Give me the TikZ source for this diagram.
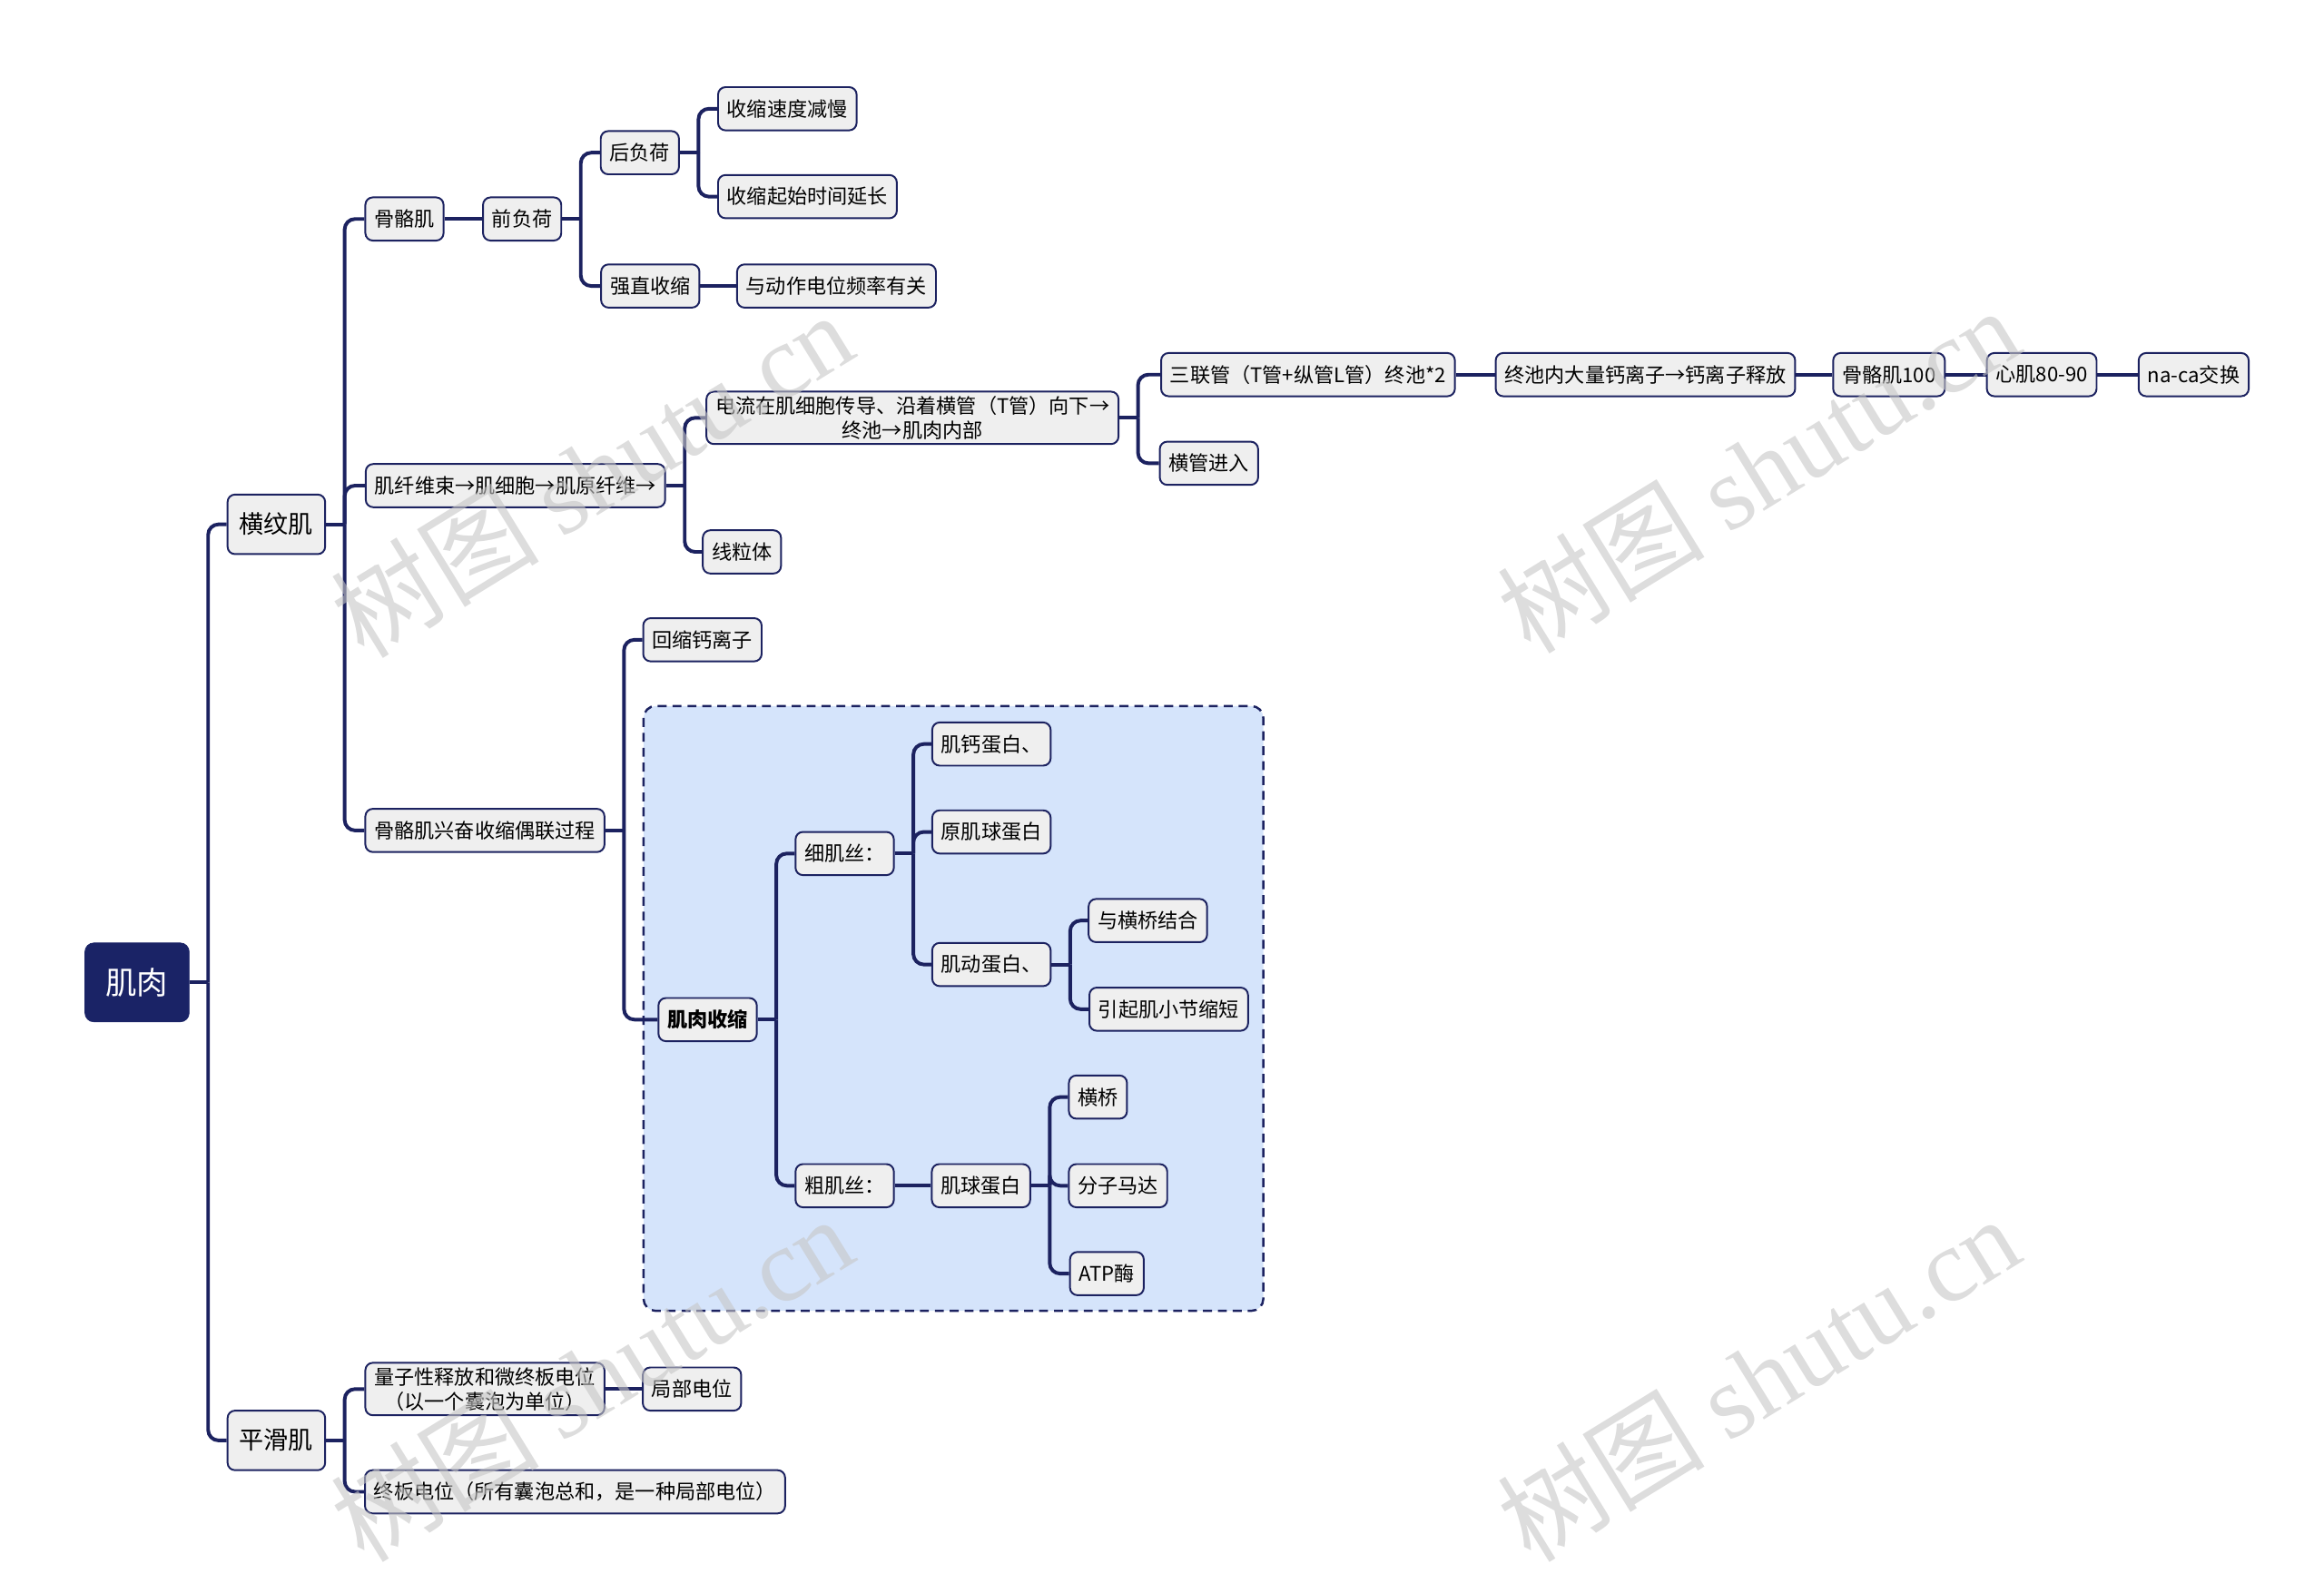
\documentclass[tikz,border=0pt]{standalone}
\usepackage{fontspec}
\setmainfont{Noto Sans CJK SC}
\newfontfamily\wmlatin{Liberation Serif}
\usetikzlibrary{arrows}

\definecolor{navy}{HTML}{1C2260}
\definecolor{rootfill}{HTML}{1A2366}
\definecolor{nodefill}{HTML}{EFEFEF}
\definecolor{boxfill}{HTML}{D5E4FB}

\tikzset{
  topic/.style={draw=navy, line width=1.2pt, fill=nodefill, rounded corners=5pt,
    inner xsep=6pt, inner ysep=3pt, minimum height=29pt, font=\fontsize{13.5}{16.5}\selectfont, align=center},
  maintopic/.style={topic, minimum height=40pt, inner xsep=8pt, font=\fontsize{16.5}{20}\selectfont},
  roottopic/.style={draw=rootfill, fill=rootfill, text=white, rounded corners=6pt,
    minimum width=70pt, minimum height=53pt, font=\fontsize{21}{25}\selectfont},
  link/.style={draw=navy, line width=2.4pt},
  wm/.style={text=gray!45, text opacity=0.6, font=\fontsize{70}{80}\selectfont, rotate=31.6}
}

% parent to several children through a vertical trunk
\newcommand{\fork}[2]{%
  \draw[link] (#1.east) -- ++(12.5,0) coordinate (#1T);
  \foreach \c in {#2} \draw[link, rounded corners=7pt] (#1T) |- (\c.west);
}
% parent to one child on the same line
\newcommand{\join}[2]{\draw[link] (#1.east) -- (#2.west);}

\begin{document}
\begin{tikzpicture}[x=1pt, y=-1pt]
  \useasboundingbox (0,0) rectangle (1560,1069);

  \draw[navy, line width=1.5pt, dash pattern=on 6pt off 4pt, fill=boxfill, rounded corners=8pt] (432,474) rectangle (848,880);

  \node[roottopic] (root) at (92,659.5) {肌肉};

  \node[maintopic] (hwj) at (185.5,352) {横纹肌};
  \node[maintopic] (phj) at (185.5,967) {平滑肌};

  \node[topic] (ggj) at (271.5,147) {骨骼肌};
  \node[topic] (qfh) at (350.5,147) {前负荷};
  \node[topic] (hfh) at (429.5,102.5) {后负荷};
  \node[topic] (qzss) at (436.5,192) {强直收缩};
  \node[topic] (sdjm) at (528.5,73) {收缩速度减慢};
  \node[topic] (qsyc) at (542,132) {收缩起始时间延长};
  \node[topic] (pl) at (561.5,192) {与动作电位频率有关};

  \node[topic] (jxws) at (346,326) {肌纤维束→肌细胞→肌原纤维→};
  \node[topic] (dl) at (612.5,280.5) {电流在肌细胞传导、沿着横管（T管）向下→\\终池→肌肉内部};
  \node[topic] (xlt) at (498,370.5) {线粒体};
  \node[topic] (slg) at (878,251.5) {三联管（T管+纵管L管）终池*2};
  \node[topic] (hgjr) at (811.5,311) {横管进入};
  \node[topic] (zc) at (1104.5,251.5) {终池内大量钙离子→钙离子释放};
  \node[topic] (gg100) at (1268,251.5) {骨骼肌100};
  \node[topic] (xj) at (1370.5,251.5) {心肌80-90};
  \node[topic] (naca) at (1472.5,251.5) {na-ca交换};

  \node[topic] (ol) at (325.5,557.5) {骨骼肌兴奋收缩偶联过程};
  \node[topic] (hs) at (471.5,429.5) {回缩钙离子};
  \node[topic, font=\fontsize{13.5}{16.5}\selectfont\bfseries] (jrss) at (475,684.5) {肌肉收缩};
  \node[topic] (xjs) at (567,573) {细肌丝：};
  \node[topic] (cjs) at (567,796) {粗肌丝：};
  \node[topic] (jgdb) at (665.5,499.5) {肌钙蛋白、};
  \node[topic] (yjq) at (665.5,558.5) {原肌球蛋白};
  \node[topic] (jddb) at (665.5,647.5) {肌动蛋白、};
  \node[topic] (jh) at (770.5,618) {与横桥结合};
  \node[topic] (sd) at (784.5,677.5) {引起肌小节缩短};
  \node[topic] (jqdb) at (658.5,796) {肌球蛋白};
  \node[topic] (hq) at (737,736.5) {横桥};
  \node[topic] (md) at (750.5,796) {分子马达};
  \node[topic] (atp) at (743,855) {ATP酶};

  \node[topic] (lz) at (325.5,932.5) {量子性释放和微终板电位\\（以一个囊泡为单位）};
  \node[topic] (jbdw) at (464.5,932.5) {局部电位};
  \node[topic] (zbdw) at (386,1001.5) {终板电位（所有囊泡总和，是一种局部电位）};

  \fork{root}{hwj,phj}
  \fork{hwj}{ggj,jxws,ol}
  \join{ggj}{qfh}
  \fork{qfh}{hfh,qzss}
  \fork{hfh}{sdjm,qsyc}
  \join{qzss}{pl}
  \fork{jxws}{dl,xlt}
  \fork{dl}{slg,hgjr}
  \join{slg}{zc}
  \join{zc}{gg100}
  \join{gg100}{xj}
  \join{xj}{naca}
  \fork{ol}{hs,jrss}
  \fork{jrss}{xjs,cjs}
  \fork{xjs}{jgdb,yjq,jddb}
  \fork{jddb}{jh,sd}
  \join{cjs}{jqdb}
  \fork{jqdb}{hq,md,atp}
  \fork{phj}{lz,zbdw}
  \join{lz}{jbdw}

  \node[wm] (wm1) at (397,318) {树图 {\wmlatin shutu.cn}};
  \node[wm] (wm2) at (1180,315) {树图 {\wmlatin shutu.cn}};
  \node[wm] (wm3) at (397,925) {树图 {\wmlatin shutu.cn}};
  \node[wm] (wm4) at (1180,925) {树图 {\wmlatin shutu.cn}};
\end{tikzpicture}
\end{document}
